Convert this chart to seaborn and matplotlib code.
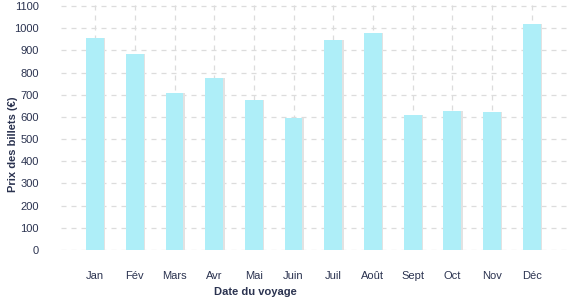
import matplotlib
matplotlib.use("Agg")
import matplotlib.pyplot as plt
import matplotlib.patheffects as pe
import seaborn as sns
import pandas as pd

months = ["Jan", "Fév", "Mars", "Avr", "Mai", "Juin", "Juil", "Août", "Sept", "Oct", "Nov", "Déc"]
prices = [955, 885, 710, 775, 675, 595, 945, 980, 610, 625, 620, 1020]
yticks = [0, 100, 200, 300, 400, 500, 600, 700, 800, 900, 1000, 1100]

sns.set_style("white")
plt.rcParams["font.family"] = ["Liberation Sans", "DejaVu Sans"]

df = pd.DataFrame({"mois": months, "prix": prices})

W, H = 577, 300
fig = plt.figure(figsize=(W / 100, H / 100), dpi=100)
left, right, top, bottom = 61, 567, 0, 250
ax = fig.add_axes([left / W, 1 - bottom / H, (right - left) / W, (bottom - top) / H])

text_col = "#2b3350"
grid_col = "#dcdcdc"

sns.barplot(data=df, x="mois", y="prix", color="#aeeef8", saturation=1, width=0.45,
            ax=ax, zorder=3)
for p in ax.patches:
    p.set_linewidth(0)
    p.set_path_effects([pe.SimplePatchShadow(offset=(1.0, 0), shadow_rgbFace="#e2e2e2", alpha=1), pe.Normal()])

ax.set_ylim(0, 1100 * 250 / 244)
ax.set_xlim(-0.86, 11.89)
ax.set_yticks(yticks)
ax.set_yticklabels([str(v) for v in yticks])

ax.grid(True, axis="both", color=grid_col, linestyle=(0, (4, 4)), linewidth=0.9, zorder=0)
ax.set_axisbelow(True)
for s in ax.spines.values():
    s.set_visible(False)

ax.tick_params(axis="y", length=0, pad=16, labelsize=8, labelcolor=text_col)
ax.tick_params(axis="x", length=11, width=0.9, color=grid_col, pad=4, labelsize=8, labelcolor=text_col)

ax.set_xlabel("Date du voyage", fontsize=8, fontweight="bold", color=text_col)
ax.set_ylabel("Prix des billets (€)", fontsize=8, fontweight="bold", color=text_col)
ax.xaxis.set_label_coords((255 - left) / (right - left), -(287 - bottom) / (bottom - top))
ax.yaxis.set_label_coords(-(left - 18) / (right - left), (bottom - 144) / (bottom - top))

fig.savefig("out.png", dpi=100)
